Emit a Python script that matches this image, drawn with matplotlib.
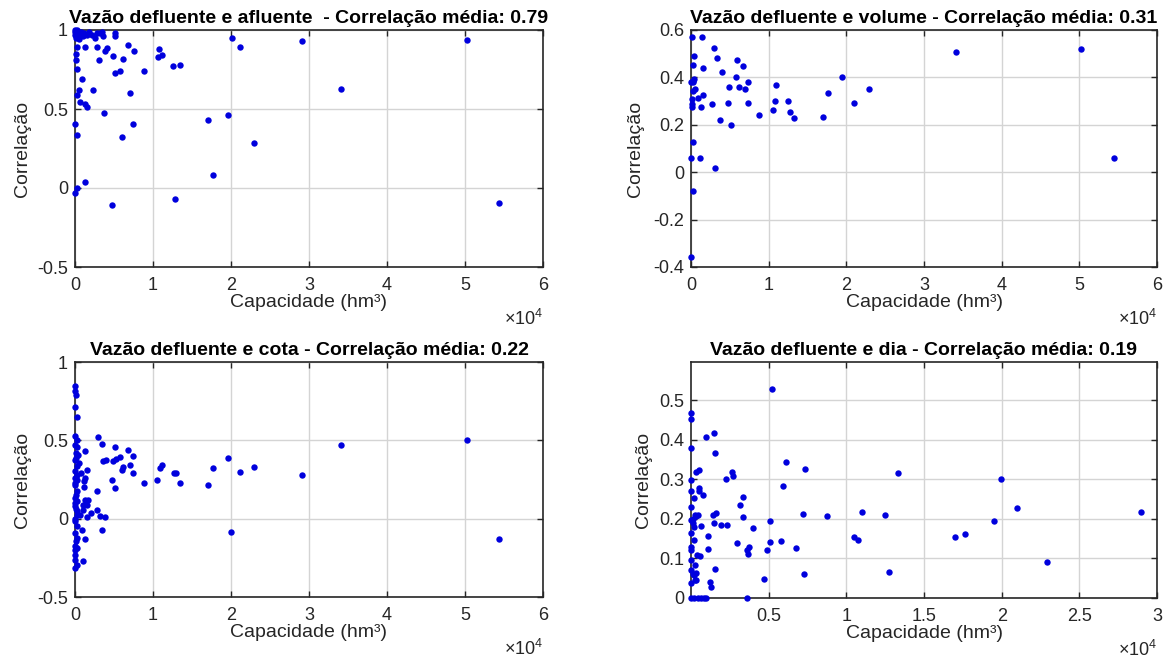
import matplotlib
matplotlib.use("Agg")
import matplotlib.pyplot as plt

plt.rcParams['font.family'] = ['Liberation Sans', 'DejaVu Sans']
plt.rcParams['mathtext.fontset'] = 'custom'
plt.rcParams['mathtext.rm'] = 'Liberation Sans'

# capacidade (hm3) x correlacao - vazao defluente e afluente
cap_af = [0, 200, 400, 600, 800, 1000, 1200, 1500, 1800, 2200, 2500, 2800, 3200, 3400, 3600,
          5100, 5100, 100, 500, 0, 0, 300, 100,
          200, 1300, 2800, 3800, 4100, 6800, 7500, 4900, 6200, 3100, 100, 100, 300, 5100, 5800,
          8850, 10800, 10600, 11100, 12600, 13500, 940, 7050, 2270, 550, 200, 640, 1300, 1600,
          3700, 0, 200, 7400, 6000, 17100, 19600, 23000, 17700, 1300, 300, 0, 4700, 12800,
          20100, 21200, 29100, 50200, 34100, 54400]
cor_af = [1.00, 0.99, 0.98, 0.97, 0.99, 0.96, 0.98, 0.97, 0.99, 0.97, 0.95, 0.98, 0.98, 0.99, 0.96,
          0.98, 0.96, 0.95, 0.945, 0.97, 0.99, 1.00, 0.97,
          0.89, 0.89, 0.89, 0.87, 0.886, 0.907, 0.87, 0.835, 0.818, 0.808, 0.846, 0.808, 0.755, 0.728, 0.74,
          0.738, 0.878, 0.829, 0.84, 0.772, 0.78, 0.69, 0.603, 0.62, 0.618, 0.587, 0.544, 0.534, 0.51,
          0.475, 0.405, 0.338, 0.407, 0.323, 0.43, 0.462, 0.287, 0.08, 0.038, 0.0, -0.03, -0.106, -0.068,
          0.947, 0.894, 0.932, 0.937, 0.627, -0.097]

# vazao defluente e volume
cap_vol = [100, 1450, 400, 200, 1500, 2950, 3300, 4000, 5900, 6700, 5800, 4900, 6150, 7000, 7350,
           7350, 4700, 2700, 1250, 1600, 850, 200, 400, 300, 500, 300, 100, 100, 100, 0, 3700, 5100,
           8800, 10550, 10800, 11000, 12500, 12800, 13300, 17000, 17700, 19400, 21000, 22900, 300, 0,
           1150, 3150, 200, 0, 34100, 50200, 54400]
cor_vol = [0.569, 0.569, 0.489, 0.452, 0.438, 0.523, 0.482, 0.424, 0.473, 0.447, 0.403, 0.358, 0.36, 0.35, 0.379,
           0.291, 0.294, 0.287, 0.277, 0.325, 0.311, 0.379, 0.393, 0.386, 0.35, 0.343, 0.308, 0.287, 0.273, 0.379,
           0.219, 0.198, 0.243, 0.263, 0.3, 0.367, 0.3, 0.254, 0.228, 0.235, 0.336, 0.4, 0.29, 0.353, 0.129, 0.061,
           0.061, 0.016, -0.08, -0.358, 0.506, 0.52, 0.061]

# vazao defluente e cota
cap_cota = [0, 0, 100, 0, 200, 0, 200, 200, 400, 0, 500, 200, 0, 300, 800, 0, 300, 0, 200, 0, 300, 0,
            200, 300, 0, 200, 0, 200, 0, 300, 0, 0, 200, 0, 100, 0, 100, 0, 100, 0, 100, 0, 100, 0,
            3000, 3400, 5100, 6800, 7400, 1300, 1500, 1300, 1100, 1150, 2800, 1300, 1700, 1000, 1500,
            2100, 2800, 3200, 3850, 1500, 640, 1070, 3400, 1300, 1000, 860,
            3630, 3970, 4900, 5300, 5770, 6000, 6200, 7050, 7480, 4700, 5130, 8850, 10560, 10900, 11100,
            12700, 12950, 13460, 17100, 17700, 19600, 21200, 23000, 29100, 20000, 34100, 50200, 54400]
cor_cota = [0.845, 0.812, 0.791, 0.71, 0.649, 0.525, 0.505, 0.455, 0.408, 0.376, 0.355, 0.334, 0.302, 0.281,
            0.291, 0.26, 0.249, 0.217, 0.175, 0.132, 0.111, 0.079, 0.047, 0.026, -0.017, -0.049, -0.091,
            -0.123, -0.176, -0.187, -0.229, -0.261, -0.293, -0.314, 0.42, 0.47, 0.39, 0.23, 0.15, 0.1, 0.06,
            0.0, -0.14, -0.2,
            0.52, 0.477, 0.46, 0.44, 0.398, 0.434, 0.313, 0.26, 0.238, 0.2, 0.175, 0.121, 0.121, 0.089, 0.089,
            0.036, 0.057, 0.014, 0.01, 0.008, 0.026, 0.057, -0.07, -0.128, -0.272, -0.07,
            0.366, 0.376, 0.366, 0.38, 0.391, 0.313, 0.327, 0.34, 0.291, 0.249, 0.196, 0.228, 0.249, 0.323,
            0.344, 0.291, 0.291, 0.228, 0.217, 0.323, 0.387, 0.298, 0.328, 0.276, -0.083, 0.472, 0.50, -0.13]

# vazao defluente e dia
cap_dia = [5190, 0, 0, 960, 1500, 0, 1540, 6100, 7370, 530, 320, 0, 2670, 2730, 2240, 5920, 0, 530, 530,
           210, 750, 0, 3350, 3140, 7200, 3350, 5060, 1430, 1640, 1500, 1920, 2310, 640, 250, 350, 450,
           0, 200, 0, 200, 0, 4000, 1110, 1110, 2930, 3740, 3590, 3700, 4870, 5090, 5770, 6770, 400, 550,
           0, 250, 0, 200, 300, 350, 0, 250, 1560, 1220, 1280, 4700, 7300, 0, 210, 430, 640, 850, 960,
           3630, 100, 100, 0, 100,
           8760, 10980, 12500, 10490, 10770, 12760, 13350, 16990, 17670, 19490, 19960, 21000, 22900, 29000]
cor_dia = [0.529, 0.468, 0.452, 0.407, 0.417, 0.378, 0.367, 0.343, 0.326, 0.323, 0.317, 0.298, 0.319, 0.309,
           0.3, 0.284, 0.271, 0.279, 0.27, 0.252, 0.26, 0.231, 0.256, 0.236, 0.211, 0.204, 0.194, 0.21, 0.215,
           0.189, 0.184, 0.184, 0.182, 0.21, 0.208, 0.21, 0.197, 0.18, 0.163, 0.146, 0.13, 0.176, 0.157,
           0.125, 0.138, 0.13, 0.121, 0.111, 0.121, 0.141, 0.145, 0.127, 0.109, 0.106, 0.096, 0.083, 0.071,
           0.058, 0.062, 0.045, 0.037, 0.045, 0.073, 0.04, 0.027, 0.049, 0.06, 0.0, 0.0, 0.0, 0.0, 0.0, 0.0,
           0.0, 0.19, 0.06, 0.12, 0.2,
           0.208, 0.217, 0.209, 0.155, 0.146, 0.066, 0.316, 0.153, 0.161, 0.195, 0.3, 0.227, 0.091, 0.217]

titulos = ['Vazão defluente e afluente  - Correlação média: 0.79',
           'Vazão defluente e volume - Correlação média: 0.31',
           'Vazão defluente e cota - Correlação média: 0.22',
           'Vazão defluente e dia - Correlação média: 0.19']

W, H = 1168, 661
fig = plt.figure(figsize=(W / 100, H / 100), dpi=100)

def px(l, t, r, b):
    return [l / W, 1 - b / H, (r - l) / W, (b - t) / H]

axs = [fig.add_axes(px(75, 30, 543, 267)),
       fig.add_axes(px(691, 30, 1157, 267)),
       fig.add_axes(px(75, 362, 543, 597)),
       fig.add_axes(px(691, 362, 1157, 598))]

dados = [(cap_af, cor_af), (cap_vol, cor_vol), (cap_cota, cor_cota), (cap_dia, cor_dia)]

for i, ax in enumerate(axs):
    x, y = dados[i]
    ax.plot(x, y, 'o', color='#0000dd', markersize=4.6, markeredgewidth=0, clip_on=False, zorder=3)
    ax.set_title(titulos[i], fontsize=14, fontweight='bold', pad=5)
    ax.set_axisbelow(True)
    ax.grid(True, color='#d4d4d4', linewidth=1.0)
    for s in ax.spines.values():
        s.set_color('#262626')
        s.set_linewidth(1.2)
    ax.tick_params(direction='in', top=True, right=True, length=4.5, width=1.0,
                   labelsize=13, colors='#262626')
    ax.tick_params(axis='x', pad=7)
    ax.tick_params(axis='y', pad=5)
    ax.set_xlabel('Capacidade (hm³)', fontsize=14, color='#262626')
    ax.set_ylabel('Correlação', fontsize=14, color='#262626')
    ax.xaxis.label.set_va('center')
    ax.yaxis.label.set_va('center')
    ax.xaxis.set_label_coords(0.5, -36 / 237)
    ax.text(1.0, -52 / 237, r'$\times\mathregular{10^4}$', transform=ax.transAxes,
            ha='right', va='center', fontsize=13, color='#262626')

# eixos 1 a 3: 0 a 6 x10^4
for ax in axs[:3]:
    ax.set_xlim(0, 60000)
    ax.set_xticks([0, 10000, 20000, 30000, 40000, 50000, 60000])
    ax.set_xticklabels(['0', '1', '2', '3', '4', '5', '6'])

axs[0].set_ylim(-0.5, 1)
axs[0].set_yticks([-0.5, 0, 0.5, 1])
axs[0].set_yticklabels(['-0.5', '0', '0.5', '1'])
axs[0].yaxis.set_label_coords(-53 / 468, 0.5)

axs[1].set_ylim(-0.4, 0.6)
axs[1].set_yticks([-0.4, -0.2, 0, 0.2, 0.4, 0.6])
axs[1].set_yticklabels(['-0.4', '-0.2', '0', '0.2', '0.4', '0.6'])
axs[1].yaxis.set_label_coords(-55 / 466, 0.5)

axs[2].set_ylim(-0.5, 1)
axs[2].set_yticks([-0.5, 0, 0.5, 1])
axs[2].set_yticklabels(['-0.5', '0', '0.5', '1'])
axs[2].yaxis.set_label_coords(-53 / 468, 0.5)

axs[3].set_xlim(0, 30000)
axs[3].set_xticks([5000, 10000, 15000, 20000, 25000, 30000])
axs[3].set_xticklabels(['0.5', '1', '1.5', '2', '2.5', '3'])
axs[3].set_ylim(0, 0.596)
axs[3].set_yticks([0, 0.1, 0.2, 0.3, 0.4, 0.5])
axs[3].set_yticklabels(['0', '0.1', '0.2', '0.3', '0.4', '0.5'])
axs[3].yaxis.set_label_coords(-47 / 466, 0.5)

fig.savefig('out.png', dpi=100)
